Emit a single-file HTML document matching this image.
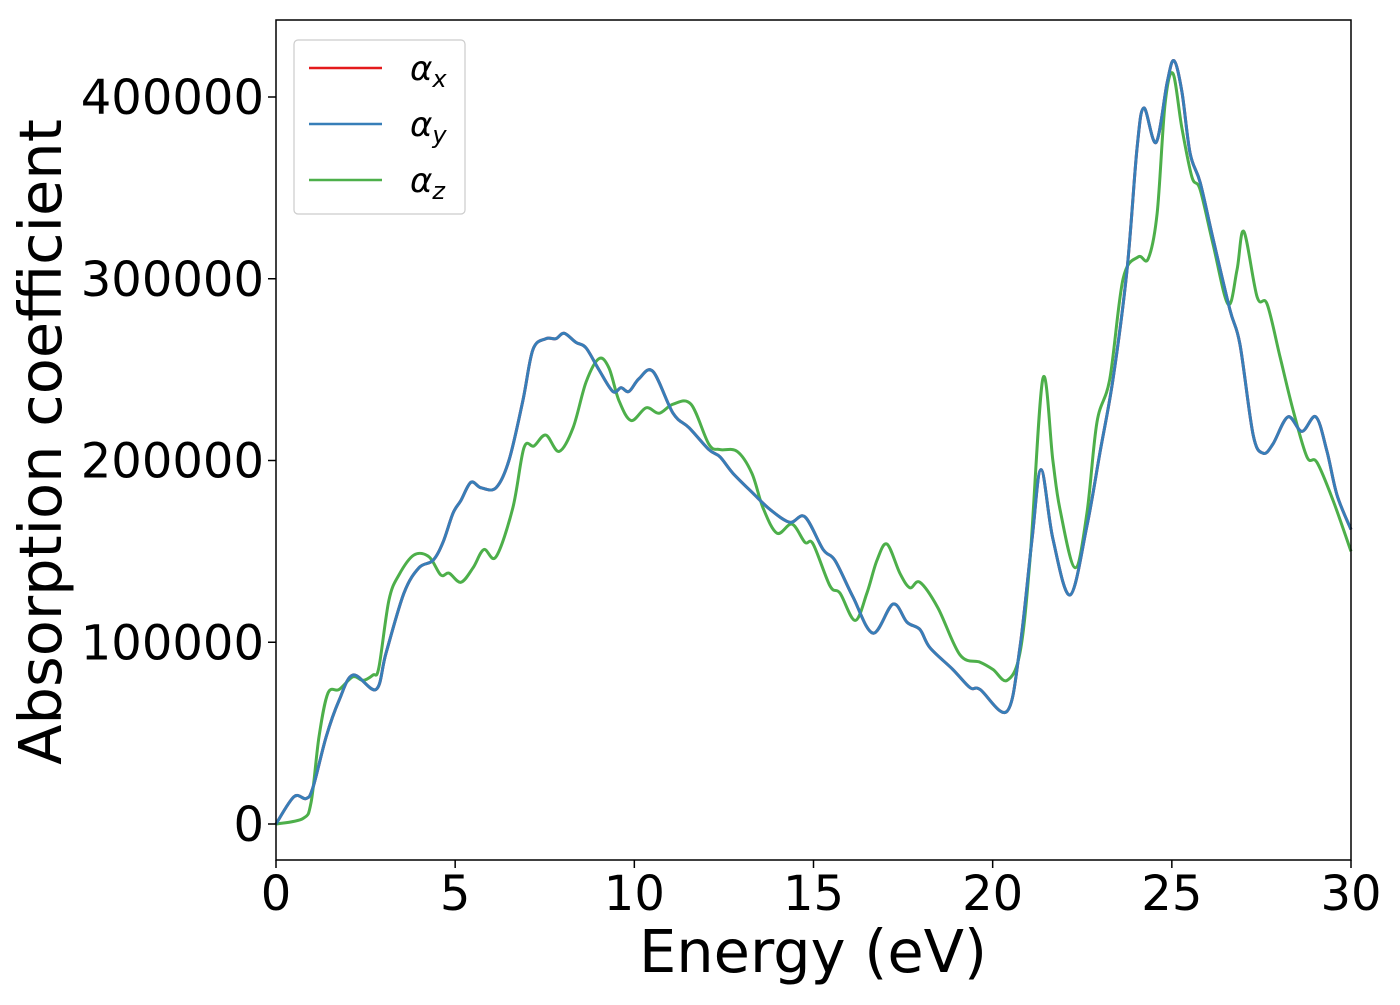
<!DOCTYPE html>
<html><head><meta charset="utf-8"><style>
body{margin:0;background:#fff}
svg{font-family:"DejaVu Sans","Liberation Sans",sans-serif}
</style></head><body>
<svg id="chart" width="1400" height="1000" xmlns="http://www.w3.org/2000/svg">
<rect width="1400" height="1000" fill="#fff"/>
<g id="series"></g>
<rect x="276" y="20" width="1075" height="840" fill="none" stroke="#000" stroke-width="1.5"/>
<g id="xticks"></g>
<g id="yticks"></g>
<text x="813" y="972" font-size="59" text-anchor="middle">Energy (eV)</text>
<text transform="translate(61,442) rotate(-90)" font-size="59" text-anchor="middle">Absorption coefficient</text>
<g>
<rect x="294" y="40" width="171" height="174" rx="4" fill="#fff" fill-opacity="0.8" stroke="#ccc" stroke-width="1.2"/>
<g><line x1="309" y1="68" x2="382" y2="68" stroke="#e41a1c" stroke-width="2.5"/><text x="410" y="80" font-size="34" font-style="italic">α<tspan font-size="24" dy="7">x</tspan></text></g>
<g><line x1="309" y1="124" x2="382" y2="124" stroke="#377eb8" stroke-width="2.5"/><text x="410" y="136" font-size="34" font-style="italic">α<tspan font-size="24" dy="7">y</tspan></text></g>
<g><line x1="309" y1="180" x2="382" y2="180" stroke="#4daf4a" stroke-width="2.5"/><text x="410" y="192" font-size="34" font-style="italic">α<tspan font-size="24" dy="7">z</tspan></text></g>
</g>
</svg>
<script>
const xyEnergy=[0,0.5,0.84,1.03,1.4,1.76,2.15,2.79,3.07,3.57,3.99,4.38,4.66,4.94,5.16,5.44,5.72,6.14,6.5,6.89,7.17,7.53,7.81,8.04,8.37,8.65,9.01,9.4,9.63,9.85,10.13,10.52,11.08,11.53,12.08,12.39,12.75,13.31,13.79,14.34,14.76,15.27,15.6,16.1,16.66,17.22,17.61,17.97,18.25,18.89,19.37,19.65,20.4,20.76,21.1,21.35,21.68,22.16,22.63,23.0,23.36,23.75,24.03,24.22,24.56,24.87,25.06,25.28,25.51,25.79,26.15,26.62,26.9,27.27,27.55,27.82,28.24,28.63,29.02,29.33,29.61,30];
const alphaY=[0,15,14,20,48,68,82,74,94,127,141,145,155,171,178,188,185,185,200,233,261,267,267,270,265,262,250,238,240,238,245,249,226,218,206,202,193,182,173,166,169,151,145,125,105,121,111,107,97,85,75,74,62,97,157,195,157,126,164,205,245,305,372,394,375,408,420,403,369,353,322,283,264,214,204,209,224,216,224,205,181,162];
const alphaX=alphaY.slice();
const zEnergy=[0,0.75,0.98,1.2,1.45,1.76,2.15,2.43,2.71,2.87,3.15,3.43,3.85,4.27,4.6,4.83,5.16,5.5,5.8,6.14,6.61,6.92,7.2,7.53,7.9,8.29,8.65,9.01,9.29,9.57,9.91,10.33,10.69,11.08,11.58,12.08,12.39,12.87,13.28,13.59,13.98,14.4,14.76,14.99,15.46,15.74,16.16,16.49,16.77,17.05,17.41,17.69,17.97,18.47,19.09,19.65,20.01,20.4,20.76,21.04,21.4,21.68,21.88,22.3,22.63,22.91,23.27,23.64,24.06,24.34,24.59,24.81,25.03,25.28,25.56,25.79,26.15,26.57,26.82,27.01,27.38,27.66,28.02,28.38,28.77,29.05,29.5,30];
const alphaZ=[0,3,12,48,72,74,81,79,82,86,123,137,148,147,137,138,133,141,151,147,174,207,208,214,205,218,243,256,251,233,222,229,226,231,231,209,206,205,193,174,160,165,155,154,131,127,112,127,145,154,138,130,133,119,93,89,85,79,94,145,245,200,173,141,171,221,245,300,312,311,336,396,413,383,356,349,319,286,305,326,290,286,257,228,202,199,178,150];
const xTicks=[0,5,10,15,20,25,30];
const yTicks=[0,100000,200000,300000,400000];
const X=e=>276+e*(1075/30);
const Y=v=>824-v*(727/400000);
const NS="http://www.w3.org/2000/svg";
function path(xs,ys){
  const p=xs.map((e,i)=>[X(e),Y(ys[i]*1000)]);
  let d="M"+p[0][0]+","+p[0][1];
  for(let i=0;i<p.length-1;i++){
    const p0=p[i-1]||p[i],p1=p[i],p2=p[i+1],p3=p[i+2]||p2;
    const c1=[p1[0]+(p2[0]-p0[0])/6,p1[1]+(p2[1]-p0[1])/6];
    const c2=[p2[0]-(p3[0]-p1[0])/6,p2[1]-(p3[1]-p1[1])/6];
    d+=`C${c1[0]},${c1[1]} ${c2[0]},${c2[1]} ${p2[0]},${p2[1]}`;
  }
  return d;
}
const g=document.getElementById('series');
[[xyEnergy,alphaX,'#e41a1c','line-alpha-x'],[zEnergy,alphaZ,'#4daf4a','line-alpha-z'],[xyEnergy,alphaY,'#377eb8','line-alpha-y']].forEach(s=>{
  const el=document.createElementNS(NS,'path');
  el.setAttribute('d',path(s[0],s[1]));
  el.setAttribute('fill','none');el.setAttribute('stroke',s[2]);el.setAttribute('stroke-width','3');
  
  
  g.appendChild(el);
});
const xg=document.getElementById('xticks');
xTicks.forEach(t=>{
  const l=document.createElementNS(NS,'line');
  l.setAttribute('x1',X(t));l.setAttribute('x2',X(t));l.setAttribute('y1',860);l.setAttribute('y2',868);l.setAttribute('stroke','#000');l.setAttribute('stroke-width','1.5');
  
  
  xg.appendChild(l);
  const tx=document.createElementNS(NS,'text');
  tx.setAttribute('x',X(t));tx.setAttribute('y',910);tx.setAttribute('font-size','48');tx.setAttribute('text-anchor','middle');
  tx.textContent=t;
  
  
  xg.appendChild(tx);
});
const yg=document.getElementById('yticks');
yTicks.forEach(t=>{
  const l=document.createElementNS(NS,'line');
  l.setAttribute('x1',268);l.setAttribute('x2',276);l.setAttribute('y1',Y(t));l.setAttribute('y2',Y(t));l.setAttribute('stroke','#000');l.setAttribute('stroke-width','1.5');
  
  
  yg.appendChild(l);
  const tx=document.createElementNS(NS,'text');
  tx.setAttribute('x',264);tx.setAttribute('y',Y(t)+17);tx.setAttribute('font-size','48');tx.setAttribute('text-anchor','end');
  tx.textContent=t;
  
  
  yg.appendChild(tx);
});
</script>
</body></html>
